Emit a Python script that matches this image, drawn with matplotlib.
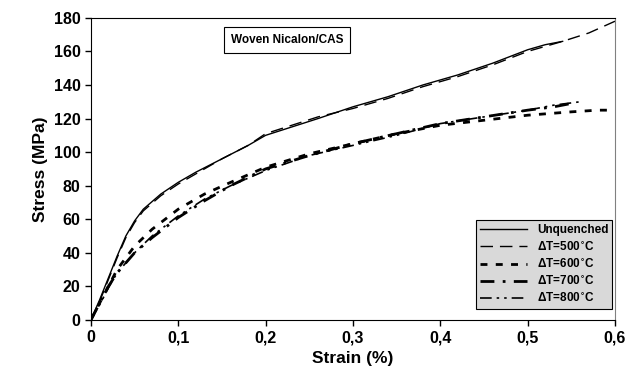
import matplotlib.pyplot as plt

plt.rcParams['font.family'] = ['Liberation Sans', 'DejaVu Sans']
plt.rcParams['font.weight'] = 'bold'

# strain (%) and stress (MPa)
strain_unq = [0, 0.01, 0.02, 0.03, 0.04, 0.05, 0.06, 0.08, 0.10, 0.12, 0.15, 0.18, 0.20,
              0.23, 0.26, 0.30, 0.34, 0.38, 0.42, 0.46, 0.50, 0.52, 0.54]
stress_unq = [0, 12, 25, 38, 50, 59, 66, 75, 82, 88, 96, 104, 110,
              115, 120, 127, 133, 140, 146, 153, 161, 164, 166]

strain_500 = [0, 0.01, 0.02, 0.03, 0.04, 0.05, 0.06, 0.08, 0.10, 0.12, 0.15, 0.18, 0.20,
              0.23, 0.26, 0.30, 0.34, 0.38, 0.42, 0.46, 0.50, 0.54, 0.57, 0.60]
stress_500 = [0, 11, 24, 37, 49, 58, 65, 74, 81, 87, 96, 104, 111,
              116, 121, 126, 132, 139, 145, 152, 160, 166, 171, 178]

strain_600 = [0, 0.01, 0.02, 0.03, 0.05, 0.07, 0.10, 0.13, 0.16, 0.20, 0.25, 0.30,
              0.35, 0.40, 0.45, 0.50, 0.55, 0.58, 0.60]
stress_600 = [0, 10, 20, 30, 44, 54, 66, 75, 82, 91, 99, 105,
              111, 116, 119, 122, 124, 125, 125]

strain_700 = [0, 0.01, 0.02, 0.03, 0.05, 0.07, 0.10, 0.13, 0.16, 0.20, 0.25, 0.30,
              0.35, 0.40, 0.45, 0.50, 0.53, 0.55]
stress_700 = [0, 10, 20, 28, 40, 49, 61, 71, 80, 90, 98, 105,
              111, 117, 121, 125, 127, 129]

strain_800 = [0, 0.01, 0.02, 0.03, 0.05, 0.07, 0.10, 0.13, 0.16, 0.20, 0.25, 0.30,
              0.35, 0.40, 0.45, 0.50, 0.53, 0.56]
stress_800 = [0, 9, 19, 28, 40, 50, 62, 72, 80, 89, 98, 104,
              110, 117, 121, 125, 128, 130]

fig = plt.figure(figsize=(6.4, 3.8), dpi=100)
ax = fig.add_axes([0.142, 0.158, 0.819, 0.795])

ax.plot(strain_unq, stress_unq, color='black', lw=1.0, label='Unquenched')
ax.plot(strain_500, stress_500, color='black', lw=1.0, dashes=(9, 5), label='ΔT=500$^{\\circ}$C')
ax.plot(strain_600, stress_600, color='black', lw=2.0, dashes=(2.5, 3), label='ΔT=600$^{\\circ}$C')
ax.plot(strain_700, stress_700, color='black', lw=2.0, dashes=(5, 3, 1, 3), label='ΔT=700$^{\\circ}$C')
ax.plot(strain_800, stress_800, color='black', lw=1.2, dashes=(7, 3, 1.5, 3, 1.5, 3), label='ΔT=800$^{\\circ}$C')

ax.set_xlim(0, 0.6)
ax.set_ylim(0, 180)
ax.set_xticks([0, 0.1, 0.2, 0.3, 0.4, 0.5, 0.6])
ax.set_xticklabels(['0', '0,1', '0,2', '0,3', '0,4', '0,5', '0,6'])
ax.set_yticks(range(0, 181, 20))
ax.tick_params(labelsize=11.5, direction='out', length=4, width=1)
for lbl in ax.get_xticklabels() + ax.get_yticklabels():
    lbl.set_fontweight('bold')
ax.set_xlabel('Strain (%)', fontsize=12.5, fontweight='bold')
ax.set_ylabel('Stress (MPa)', fontsize=12.5, fontweight='bold')
ax.spines['right'].set_color('gray')

ax.text(0.2245, 167, 'Woven Nicalon/CAS', fontsize=8.5, fontweight='bold', ha='center', va='center',
        bbox=dict(boxstyle='square,pad=0.6', fc='white', ec='black', lw=0.8))

leg = ax.legend(loc='lower right', bbox_to_anchor=(0.995, 0.035), fontsize=8.5, frameon=True,
                fancybox=False, framealpha=1, facecolor='#d9d9d9', edgecolor='black',
                handlelength=4, labelspacing=0.35, borderaxespad=0.0, borderpad=0.35)
leg.get_frame().set_linewidth(0.8)

fig.savefig('out.png', dpi=100)
